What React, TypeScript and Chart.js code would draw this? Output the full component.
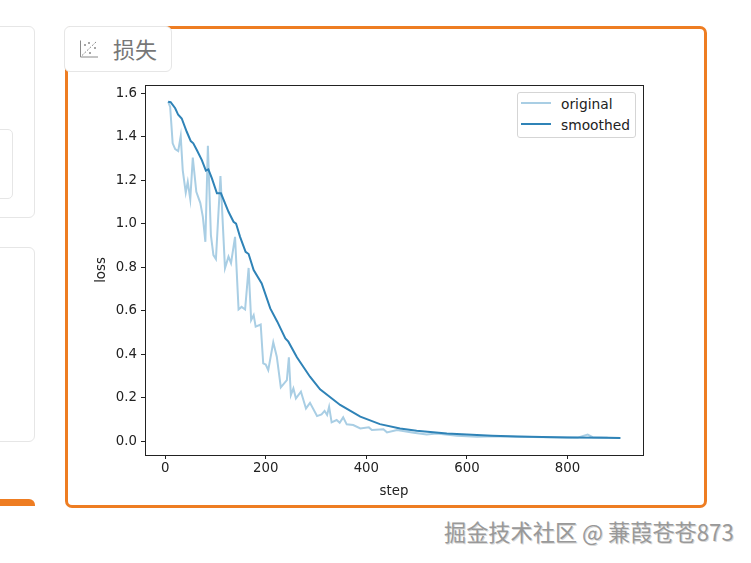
import React, { useEffect, useRef } from 'react';
import { Chart, registerables } from 'chart.js';

Chart.register(...registerables);

const seriesNames = ['original', 'smoothed'];
const xLabel = 'step';
const yLabel = 'loss';
const xTicks = [0, 200, 400, 600, 800];
const yTicks = [0, 0.2, 0.4, 0.6, 0.8, 1.0, 1.2, 1.4, 1.6];

const originalSteps = [
  6, 10, 15, 20, 26, 31, 35, 41, 45, 50, 55, 62, 70, 75, 80, 85, 91, 96, 101, 110,
  119, 126, 131, 139, 146, 152, 159, 166, 171, 176, 180, 190, 195, 200, 205, 215, 222, 230, 242, 246,
  250, 255, 260, 270, 280, 288, 302, 311, 317, 322, 326, 331, 341, 347, 354, 361, 374, 388, 405, 411,
  434, 441, 461, 494, 520, 540, 580, 620, 660, 700, 760, 820, 840, 850, 880, 905,
];
const originalLoss = [
  1.56, 1.537, 1.369, 1.342, 1.333, 1.402, 1.246, 1.142, 1.192, 1.112, 1.303, 1.146, 1.094, 1.031, 0.916, 1.358, 0.947, 0.855, 0.837, 1.218,
  0.795, 0.848, 0.818, 0.939, 0.605, 0.617, 0.605, 0.796, 0.556, 0.579, 0.526, 0.536, 0.357, 0.352, 0.326, 0.454, 0.388, 0.247, 0.28, 0.385,
  0.211, 0.242, 0.196, 0.227, 0.15, 0.176, 0.115, 0.123, 0.139, 0.12, 0.158, 0.086, 0.097, 0.084, 0.109, 0.077, 0.074, 0.058, 0.063, 0.051,
  0.054, 0.04, 0.051, 0.038, 0.03, 0.035, 0.025, 0.02, 0.022, 0.02, 0.018, 0.016, 0.03, 0.018, 0.015, 0.014,
];

const smoothedSteps = [
  6, 11, 20, 26, 33, 43, 51, 56, 63, 73, 81, 86, 93, 103, 111, 126, 136, 141, 149, 160,
  166, 176, 192, 209, 223, 239, 245, 262, 288, 308, 348, 388, 427, 467, 500, 560, 600, 650, 700, 800, 880, 905,
];
const smoothedLoss = [
  1.56, 1.558, 1.53, 1.5, 1.483, 1.422, 1.379, 1.369, 1.338, 1.292, 1.243, 1.249, 1.208, 1.139, 1.139, 1.054, 1.008, 1.0, 0.939, 0.87,
  0.86, 0.786, 0.725, 0.61, 0.549, 0.472, 0.457, 0.385, 0.296, 0.238, 0.166, 0.112, 0.078, 0.058, 0.047, 0.035, 0.03, 0.025, 0.021, 0.017, 0.015, 0.014,
];

const ORIGINAL_COLOR = '#a9cee4';
const SMOOTHED_COLOR = '#2f83b7';
const ORANGE = '#ee7d22';
const PANEL_BORDER = '#e6e6e6';
const FONT = '"DejaVu Sans", sans-serif';

// matplotlib style closed frame
const framePlugin = {
  id: 'frame',
  afterDraw(chart: any) {
    const { ctx, chartArea: a } = chart;
    ctx.save();
    ctx.strokeStyle = '#222';
    ctx.lineWidth = 1;
    ctx.strokeRect(Math.round(a.left) + 0.5, Math.round(a.top) + 0.5, Math.round(a.right - a.left), Math.round(a.bottom - a.top));
    ctx.restore();
  },
};

function box(style: React.CSSProperties): React.CSSProperties {
  return { position: 'absolute', boxSizing: 'border-box', ...style };
}

function LegendRow({ color, label, top }: { color: string; label: string; top: number }) {
  return (
    <>
      <div style={box({ left: 3, top: top + 5, width: 30, height: 2, background: color })} />
      <div style={box({ left: 43, top: top - 2, fontSize: 13.8, lineHeight: '18px', color: '#222', whiteSpace: 'nowrap' })}>{label}</div>
    </>
  );
}

export default function App() {
  const ref = useRef<HTMLCanvasElement | null>(null);

  useEffect(() => {
    if (!ref.current) return;
    const tickFont = { family: FONT, size: 13.3 };

    const chart = new Chart(ref.current, {
      type: 'line',
      data: {
        datasets: [
          {
            label: seriesNames[0],
            data: originalSteps.map((x, i) => ({ x, y: originalLoss[i] })),
            borderColor: ORIGINAL_COLOR,
            borderWidth: 2,
            pointRadius: 0,
            tension: 0,
            order: 2,
          },
          {
            label: seriesNames[1],
            data: smoothedSteps.map((x, i) => ({ x, y: smoothedLoss[i] })),
            borderColor: SMOOTHED_COLOR,
            borderWidth: 2,
            pointRadius: 0,
            tension: 0,
            order: 1,
          },
        ],
      },
      options: {
        responsive: false,
        animation: false,
        layout: { padding: { top: 15, right: 17, left: 0, bottom: 0 } },
        plugins: { legend: { display: false }, tooltip: { enabled: false } },
        scales: {
          x: {
            type: 'linear',
            min: -40,
            max: 950,
            afterBuildTicks: (s: any) => { s.ticks = xTicks.map((value) => ({ value })); },
            afterFit: (s: any) => { s.height = 45; },
            grid: { drawOnChartArea: false, drawTicks: true, tickLength: 4, color: '#222' },
            border: { display: false },
            ticks: { color: '#222', font: tickFont, autoSkip: false, maxRotation: 0, padding: 2, callback: (v: any) => String(v) },
            title: { display: true, text: xLabel, color: '#222', font: tickFont, padding: 0 },
          },
          y: {
            type: 'linear',
            min: -0.064,
            max: 1.637,
            afterBuildTicks: (s: any) => { s.ticks = yTicks.map((value) => ({ value })); },
            afterFit: (s: any) => { s.width = 55; },
            grid: { drawOnChartArea: false, drawTicks: true, tickLength: 4, color: '#222' },
            border: { display: false },
            ticks: { color: '#222', font: tickFont, autoSkip: false, padding: 4, callback: (v: any) => Number(v).toFixed(1) },
            title: { display: true, text: yLabel, color: '#222', font: tickFont, padding: { top: 4, bottom: 0 } },
          },
        },
      },
      plugins: [framePlugin],
    } as any);

    return () => chart.destroy();
  }, []);

  return (
    <div style={box({ left: 0, top: 0, width: 751, height: 563, background: '#fff', overflow: 'hidden', fontFamily: FONT })}>
      {/* cut off panels on the left */}
      <div style={box({ left: -20, top: 26, width: 55, height: 192, border: `1px solid ${PANEL_BORDER}`, borderRadius: 6 })} />
      <div style={box({ left: -20, top: 129, width: 33, height: 70, border: `1px solid ${PANEL_BORDER}`, borderRadius: 5 })} />
      <div style={box({ left: -20, top: 247, width: 55, height: 195, border: `1px solid ${PANEL_BORDER}`, borderRadius: 6 })} />
      <div style={box({ left: -20, top: 499, width: 55, height: 7, background: ORANGE, borderTopRightRadius: 6 })} />

      {/* orange card */}
      <div style={box({ left: 65, top: 26, width: 642, height: 482, border: `3px solid ${ORANGE}`, borderRadius: 7 })} />
      <div style={box({ left: 64, top: 26, width: 108, height: 46, background: '#fff', border: `1px solid ${PANEL_BORDER}`, borderRadius: 6 })} />
      <svg style={box({ left: 79, top: 39 })} width="20" height="20" viewBox="0 0 20 20">
        <path d="M1.5 1.5V18H19" fill="none" stroke="#8a8a8a" strokeWidth="1" />
        <path d="M3 16.5L18 2" fill="none" stroke="#8a8a8a" strokeWidth="1" strokeDasharray="2 1.5" />
        <circle cx="6" cy="6" r="1" fill="#8a8a8a" />
        <circle cx="10" cy="4" r="1" fill="#8a8a8a" />
        <circle cx="16" cy="9" r="1" fill="#8a8a8a" />
        <circle cx="11" cy="14" r="1" fill="#8a8a8a" />
      </svg>
      <div style={box({ left: 113, top: 34, fontSize: 22, lineHeight: '28px', color: '#777', fontFamily: '"Noto Sans CJK SC", sans-serif' })}>损失</div>

      <canvas ref={ref} width={570} height={430} style={box({ left: 90, top: 70, width: 570, height: 430 })} />

      {/* legend */}
      <div style={box({ left: 517, top: 92, width: 119, height: 46, background: '#fff', border: '1px solid #d5d5d5', borderRadius: 3 })}>
        <LegendRow color={ORIGINAL_COLOR} label={seriesNames[0]} top={4} />
        <LegendRow color={SMOOTHED_COLOR} label={seriesNames[1]} top={25} />
      </div>

      <div
        style={box({
          left: 444,
          top: 516,
          fontSize: 22.2,
          lineHeight: '30px',
          color: '#999',
          whiteSpace: 'nowrap',
          fontFamily: '"Noto Sans CJK SC", sans-serif',
          textShadow: '1px 1px 0 #d8d8d8',
        })}
      >
        掘金技术社区 @ 蒹葭苍苍873
      </div>
    </div>
  );
}
